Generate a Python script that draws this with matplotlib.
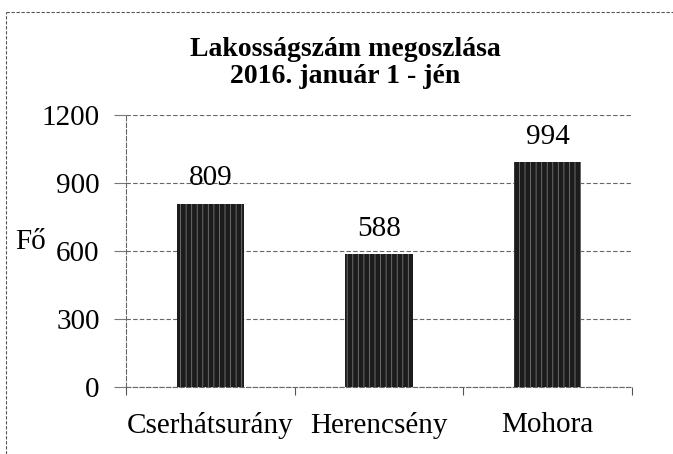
import matplotlib
matplotlib.use("Agg")
import matplotlib.pyplot as plt
from matplotlib.lines import Line2D

categories = ["Cserhátsurány", "Herencsény", "Mohora"]
values = [809, 588, 994]
yticks = [0, 300, 600, 900, 1200]
title = "Lakosságszám megoszlása\n2016. január 1 - jén"
ylabel = "Fő"

plt.rcParams['font.family'] = ['Liberation Serif', 'DejaVu Serif']
plt.rcParams['hatch.linewidth'] = 0.6

fig = plt.figure(figsize=(6.73, 4.54), dpi=100)
ax = fig.add_axes([126/673, 1 - 387/454, 506/673, 272/454])

x = list(range(len(categories)))
ax.bar(x, values, width=0.40, color='#1c1c1c', edgecolor='#777777', hatch='|||', linewidth=0, zorder=3)
for xi, v in zip(x, values):
    ax.text(xi, v + 80, str(v), ha='center', va='baseline', fontsize=21, color='black', zorder=4)

ax.set_xlim(-0.5, 2.5)
ax.set_ylim(0, 1200)
ax.set_yticks(yticks)
ax.set_yticklabels([str(t) for t in yticks], fontsize=21)
ax.set_xticks(x)
ax.set_xticklabels(categories, fontsize=21)
ax.tick_params(axis='x', length=0, pad=18)
ax.set_xticks([-0.5, 0.5, 1.5, 2.5], minor=True)
ax.tick_params(axis='x', which='minor', length=6, color='#555555', direction='out', width=0.8)
ax.tick_params(axis='y', length=9, color='#777777', pad=10, width=0.8)

ax.grid(axis='y', color='#666666', linestyle=(0, (4, 2)), linewidth=0.8, zorder=0)
for s in ['top', 'right']:
    ax.spines[s].set_visible(False)
for s in ['left', 'bottom']:
    ax.spines[s].set_color('#666666')
    ax.spines[s].set_linestyle((0, (4, 2)))
    ax.spines[s].set_linewidth(0.8)

fig.text(31/673, 1 - 242/454, ylabel, ha='center', va='center', fontsize=21)

fig.text(345/673, 1 - 63/454, title, ha='center', va='center', fontsize=20,
         fontweight='bold', linespacing=1.1)

# outer frame (dashed) on top and left
dash = (0, (3, 1.5))
fig.add_artist(Line2D([6/673, 1.0], [1 - 12/454, 1 - 12/454], transform=fig.transFigure,
                      color='#555555', linewidth=0.8, linestyle=dash))
fig.add_artist(Line2D([6/673, 6/673], [0.0, 1 - 12/454], transform=fig.transFigure,
                      color='#555555', linewidth=0.8, linestyle=dash))

fig.savefig("out.png", dpi=100)
